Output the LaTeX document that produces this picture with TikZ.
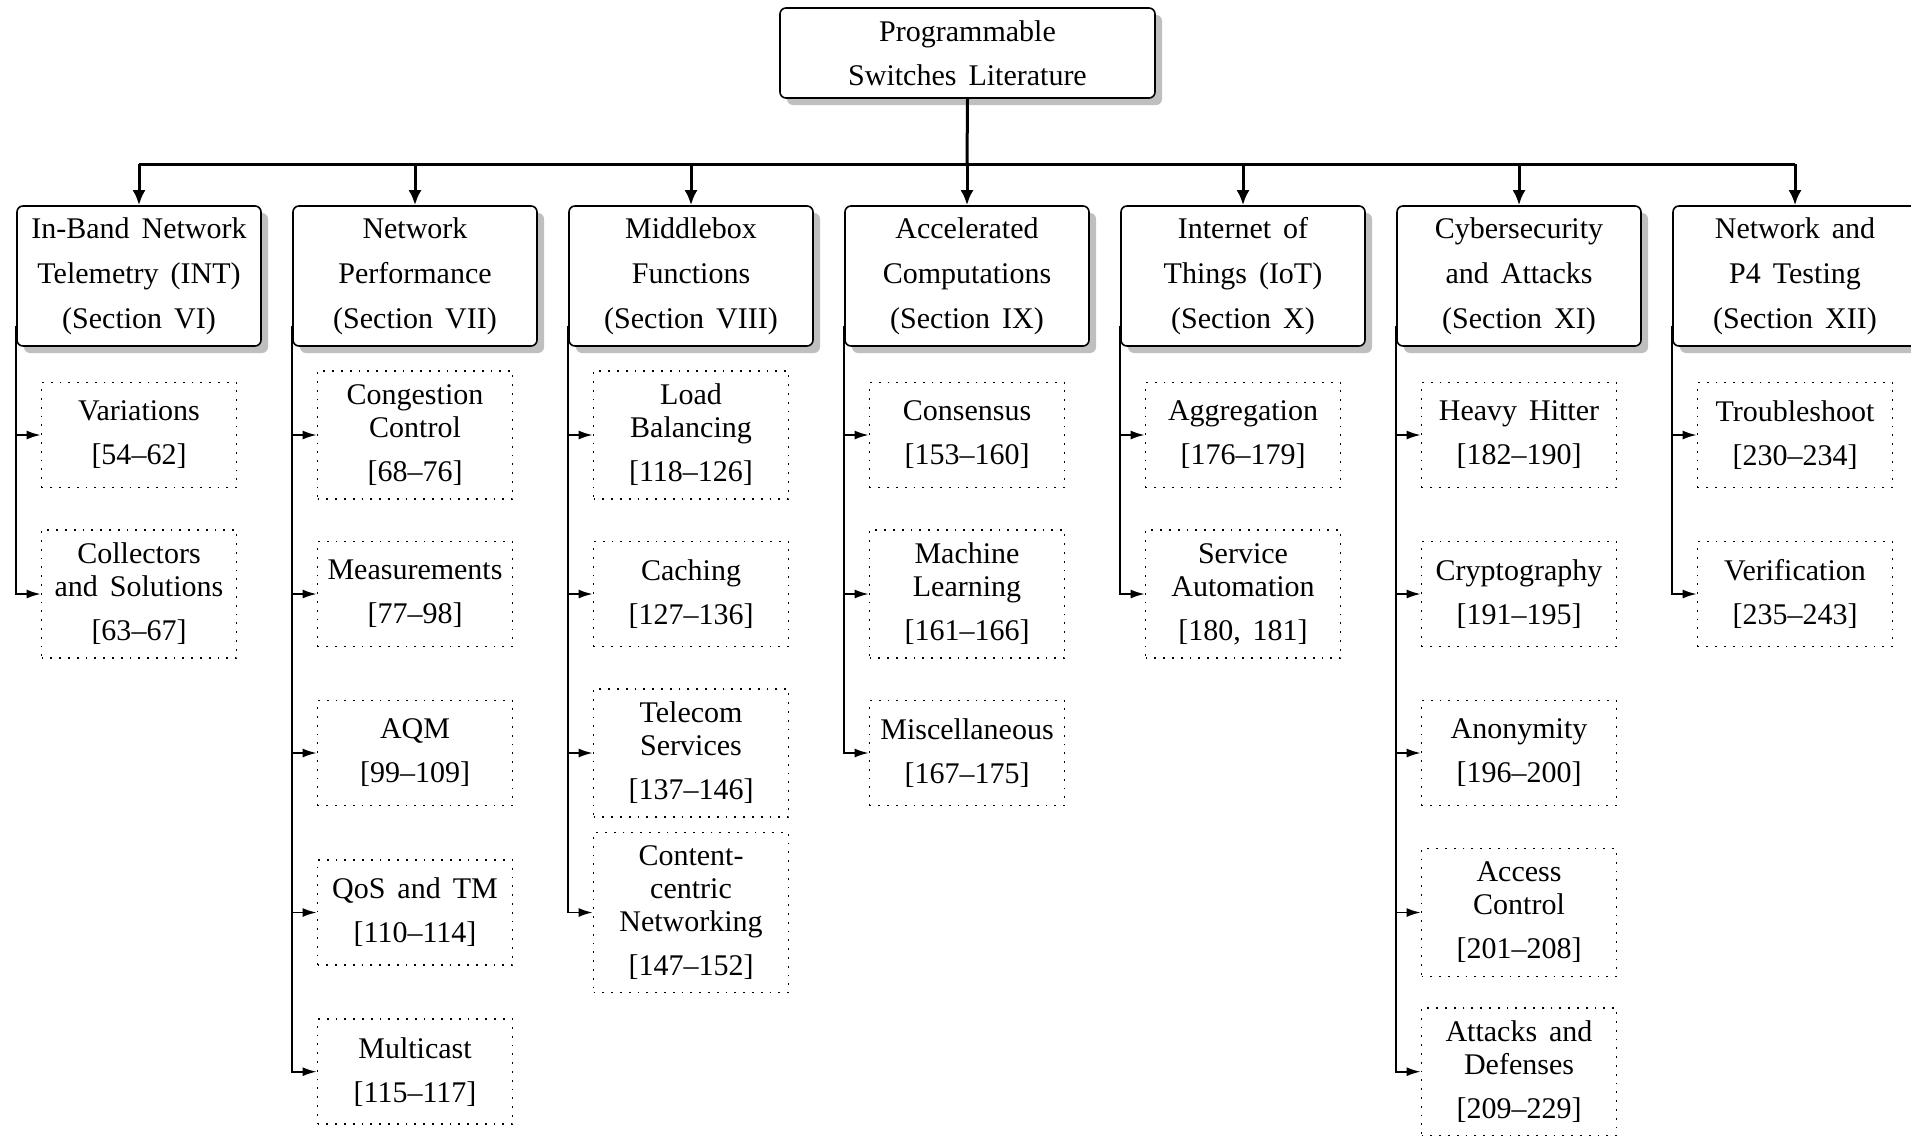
\documentclass[tikz,border=0pt]{standalone}
\usepackage{fontspec}
\setmainfont{Liberation Serif}
\usetikzlibrary{arrows.meta,shadows}
\newcommand\boxfont{\fontsize{15}{16.5}\selectfont\spaceskip=0.4em plus 0.1em\relax}
\begin{document}
\begin{tikzpicture}[x=0.5pt,y=-0.5pt,
  txt/.style={font=\boxfont, align=center, inner sep=0pt},
  shadowed/.style={drop shadow={shadow xshift=3.5pt, shadow yshift=-3.5pt,
    fill=black!25, opacity=1}},
  rootbox/.style={txt, draw, line width=0.8pt, rounded corners=3pt, fill=white,
    shadowed, minimum width=187.5pt, minimum height=45pt},
  secbox/.style={txt, draw, line width=0.8pt, rounded corners=3pt, fill=white,
    shadowed, minimum width=122pt, minimum height=70pt},
  leaf/.style={txt, draw, line width=0.9pt, dash pattern=on 0.9pt off 3.5pt,
    minimum width=97.5pt},
  two/.style={leaf, minimum height=52.5pt},
  three/.style={leaf, minimum height=64pt},
  four/.style={leaf, minimum height=80pt},
  mainline/.style={line width=1.5pt},
  mainarrow/.style={line width=1.5pt, -{Latex[length=7.5pt,width=6.5pt]}},
  sidearrow/.style={line width=0.85pt, -{Latex[length=7pt,width=4.5pt]}},
]
\path[use as bounding box, clip] (0,0) rectangle (1911,1135);

% root and section headers
\node[rootbox] (root) at (967.5,53) {Programmable\\[5.5pt]Switches Literature};
\node[secbox] (h1) at (139,276)  {In-Band Network\\[6pt]Telemetry (INT)\\[6pt](Section VI)};
\node[secbox] (h2) at (415,276)  {Network\\[6pt]Performance\\[6pt](Section VII)};
\node[secbox] (h3) at (691,276)  {Middlebox\\[6pt]Functions\\[6pt](Section VIII)};
\node[secbox] (h4) at (967,276)  {Accelerated\\[6pt]Computations\\[6pt](Section IX)};
\node[secbox] (h5) at (1243,276) {Internet of\\[6pt]Things (IoT)\\[6pt](Section X)};
\node[secbox] (h6) at (1519,276) {Cybersecurity\\[6pt]and Attacks\\[6pt](Section XI)};
\node[secbox] (h7) at (1795,276) {Network and\\[6pt]P4 Testing\\[6pt](Section XII)};

% topic boxes, rows at 435, 594, 753, 912.5, 1071.7
\node[two]   (a1) at (139,435)  {Variations\\[5.5pt][54--62]};
\node[three] (a2) at (139,594)  {Collectors\\and Solutions\\[5.5pt][63--67]};

\node[three] (b1) at (415,435)  {Congestion\\Control\\[5.5pt][68--76]};
\node[two]   (b2) at (415,594)  {Measurements\\[5.5pt][77--98]};
\node[two]   (b3) at (415,753)  {AQM\\[5.5pt][99--109]};
\node[two]   (b4) at (415,912.5){QoS and TM\\[5.5pt][110--114]};
\node[two]   (b5) at (415,1071.7){Multicast\\[5.5pt][115--117]};

\node[three] (c1) at (691,435)  {Load\\Balancing\\[5.5pt][118--126]};
\node[two]   (c2) at (691,594)  {Caching\\[5.5pt][127--136]};
\node[three] (c3) at (691,753)  {Telecom\\Services\\[5.5pt][137--146]};
\node[four]  (c4) at (691,912.5){Content-\\centric\\Networking\\[5.5pt][147--152]};

\node[two]   (d1) at (967,435)  {Consensus\\[5.5pt][153--160]};
\node[three] (d2) at (967,594)  {Machine\\Learning\\[5.5pt][161--166]};
\node[two]   (d3) at (967,753)  {Miscellaneous\\[5.5pt][167--175]};

\node[two]   (e1) at (1243,435) {Aggregation\\[5.5pt][176--179]};
\node[three] (e2) at (1243,594) {Service\\Automation\\[5.5pt][180, 181]};

\node[two]   (f1) at (1519,435) {Heavy Hitter\\[5.5pt][182--190]};
\node[two]   (f2) at (1519,594) {Cryptography\\[5.5pt][191--195]};
\node[two]   (f3) at (1519,753) {Anonymity\\[5.5pt][196--200]};
\node[three] (f4) at (1519,912.5){Access\\Control\\[5.5pt][201--208]};
\node[three] (f5) at (1519,1071.7){Attacks and\\Defenses\\[5.5pt][209--229]};

\node[two]   (g1) at (1795,435) {Troubleshoot\\[5.5pt][230--234]};
\node[two]   (g2) at (1795,594) {Verification\\[5.5pt][235--243]};

% trunk and distribution bar
\coordinate (bar) at (967,164);
\draw[mainline] (root.south) -- (bar);
\draw[mainline] (bar -| h1.north) -- (bar -| h7.north);
\foreach \h in {h1,h2,h3,h4,h5,h6,h7}
  \draw[mainarrow] (bar -| \h.north) -- (\h.north);

% branches from each header to its topics
\foreach \h/\list in {h1/{a1,a2}, h2/{b1,b2,b3,b4,b5}, h3/{c1,c2,c3,c4},
                     h4/{d1,d2,d3}, h5/{e1,e2}, h6/{f1,f2,f3,f4,f5}, h7/{g1,g2}}
  \foreach \t in \list
    \draw[sidearrow] ([yshift=10.5pt]\h.south west) |- (\t.west);
\end{tikzpicture}
\end{document}
